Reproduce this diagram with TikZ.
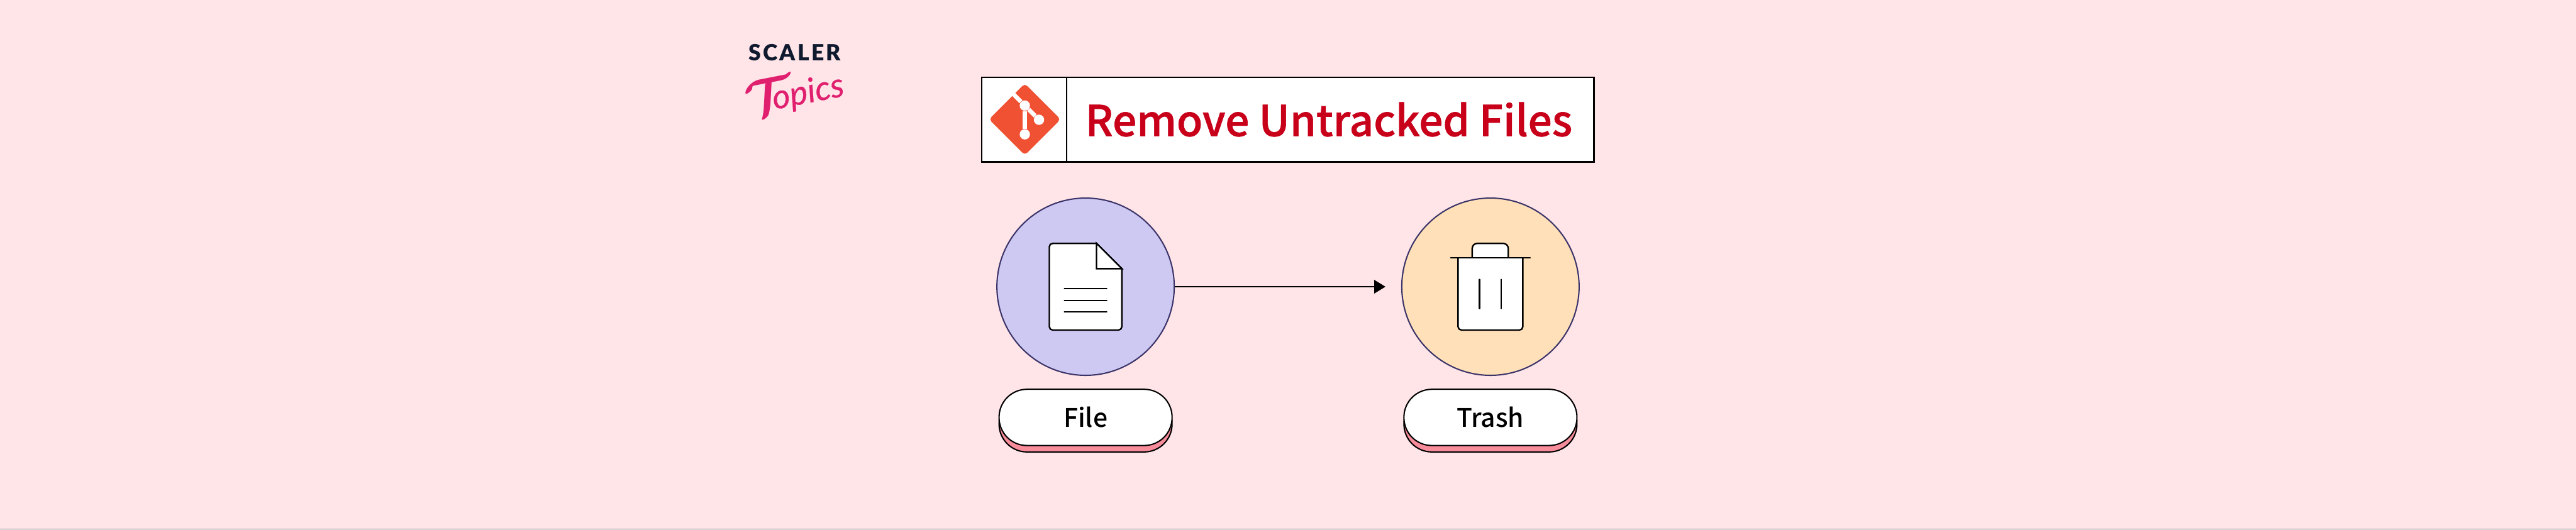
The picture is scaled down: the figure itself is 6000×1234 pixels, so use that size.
\documentclass[tikz,border=0pt]{standalone}
\usepackage{fontspec}
\setmainfont{Noto Sans CJK SC}
\newfontfamily\midfont{Noto Sans CJK SC Medium}
\newfontfamily\titlefont[FakeBold=0.9]{Noto Sans CJK SC Medium}
\newfontfamily\logofont[LetterSpace=9]{Lato Black}
\newfontfamily\topicsfont[FakeBold=0.5]{Lato Italic}
\usetikzlibrary{arrows.meta}
\usetikzlibrary{calc}

\definecolor{bgpink}{HTML}{FFE4E8}
\definecolor{titlered}{HTML}{C8001A}
\definecolor{gitorange}{HTML}{F05133}
\definecolor{filecircle}{HTML}{CEC9F3}
\definecolor{trashcircle}{HTML}{FFE0B8}
\definecolor{circleline}{HTML}{3A3368}
\definecolor{pillshadow}{HTML}{F78C9A}
\definecolor{logonavy}{HTML}{0F1A2E}
\definecolor{logopink}{HTML}{E0206F}

\tikzset{
  box/.style={draw=black,fill=white,line width=0.35mm,inner sep=0pt,minimum height=19.7mm},
  bigcircle/.style={circle,draw=circleline,line width=0.3mm,inner sep=0pt,minimum size=41.3mm},
  pill/.style={draw=black,fill=white,line width=0.3mm,rounded corners=6.5mm,inner sep=0pt,minimum width=40.3mm,minimum height=13.1mm},
  pillback/.style={pill,fill=pillshadow},
  pilltext/.style={inner sep=0pt,anchor=base,font=\midfont\fontsize{17}{20}\selectfont},
  gitdot/.style={circle,fill=white,inner sep=0pt,minimum size=2.4mm},
  icon/.style={draw=black,fill=white,line width=0.35mm},
  iconline/.style={draw=black,line width=0.3mm,line cap=round}
}

\begin{document}
\begin{tikzpicture}[x=0.1mm,y=-0.1mm]
\useasboundingbox (0,0) rectangle (6000,1234);
\fill[bgpink] (0,0) rectangle (6000,1234);
\fill[black!55] (0,1232) rectangle (6000,1234);

\node[inner sep=0pt,anchor=base,text=logonavy,font=\logofont\fontsize{14.8}{16}\selectfont] (scaler) at (1851,141) {SCALER};
\node[inner sep=0pt,rotate=11,text=logopink,font=\topicsfont\fontsize{22.5}{28}\selectfont] (topics) at (1850,215) {\raisebox{-1mm}{\scalebox{1.7}{\boldmath$\mathcal{T}$}}\hspace{-5mm}opics};

\node[box,minimum width=142.5mm] (titlebox) at (3000,278.5) {};
\node[box,minimum width=19.7mm] (gitbox) at (2385.5,278.5) {};
\node[inner sep=0pt,anchor=base west,text=titlered,font=\titlefont\fontsize{28.1}{30}\selectfont] (title) at (2527,317) {Remove Untracked Files};

\node[fill=gitorange,rotate=45,inner sep=0pt,minimum size=11.8mm,rounded corners=0.8mm] (gitlogo) at (2387,278) {};
\node[gitdot] (g1) at (2387,246) {};
\node[gitdot] (g2) at (2420,279) {};
\node[gitdot] (g3) at (2387,313) {};
\coordinate (g0) at (2357,216);
\draw[white,line width=1mm] (g0) -- (g1) -- (g2);
\draw[white,line width=1mm] (g1) -- (g3);

\node[bigcircle,fill=filecircle] (file) at (2528.5,668) {};
\node[bigcircle,fill=trashcircle] (trash) at (3471.5,668) {};
\draw[line width=0.3mm,-{Triangle[length=2.6mm,width=3.1mm]},shorten >=3.65mm] (file) -- (trash);

\draw[icon] (2554,567) -- (2613,626) [rounded corners=0.8mm] -- (2613,769) -- (2444,769) -- (2444,567) [sharp corners] -- cycle;
\draw[icon] (2554,567) -- (2554,626) -- (2613,626) -- cycle;
\draw[iconline] (2479,673) -- (2578,673);
\draw[iconline] (2479,700) -- (2578,700);
\draw[iconline] (2479,727) -- (2578,727);

\draw[icon,rounded corners=1.2mm] (3429,601) -- (3429,567) -- (3513,567) -- (3513,601);
\draw[icon] (3396,601) [rounded corners=0.8mm] -- (3396,769) -- (3547,769) -- (3547,601);
\draw[iconline] (3379,601) -- (3564,601);
\draw[iconline] (3446,651) -- (3446,719);
\draw[iconline] (3496,651) -- (3496,719);

\node[pillback] (fileback) at (2528.5,987.5) {};
\node[pill] (filepill) at (2528.5,972.5) {};
\node[pilltext] (filetext) at (2528.5,996) {File};
\node[pillback] (trashback) at (3471.5,987.5) {};
\node[pill] (trashpill) at (3471.5,972.5) {};
\node[pilltext] (trashtext) at (3471.5,996) {Trash};

\end{tikzpicture}
\end{document}
